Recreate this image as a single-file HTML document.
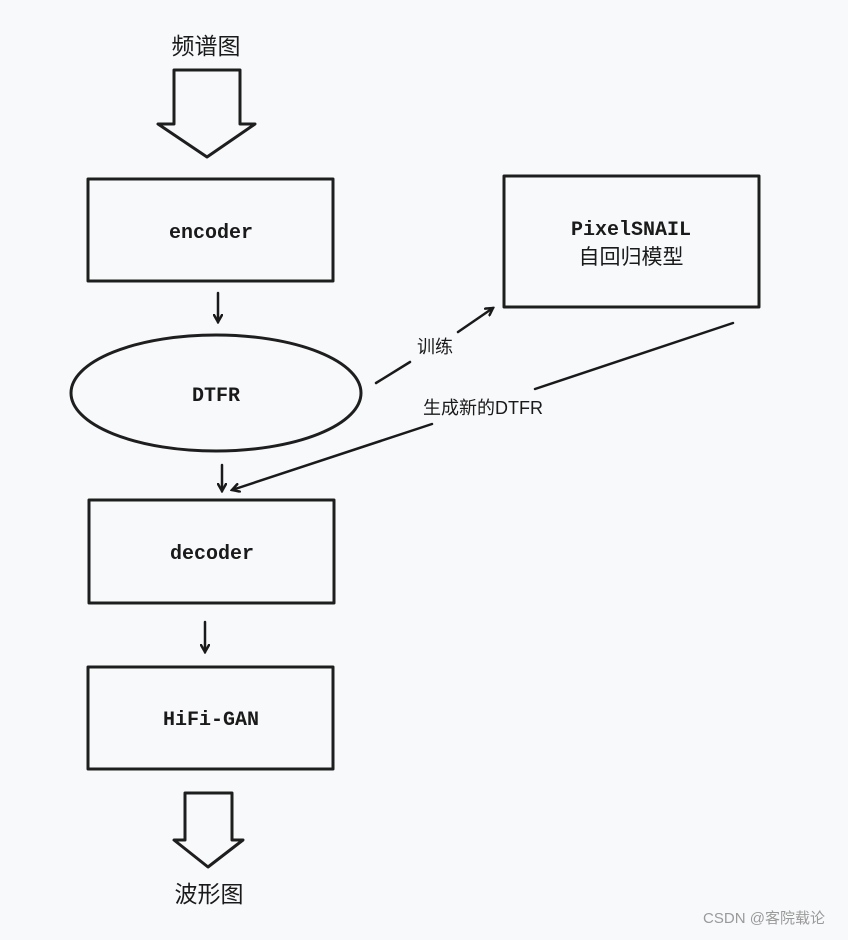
<!DOCTYPE html>
<html><head><meta charset="utf-8"><style>
html,body{margin:0;padding:0;background:#f8f9fb;}
text{font-family:"Liberation Mono","Noto Sans CJK SC",monospace;fill:#1a1a1a;}
.cn{font-family:"Liberation Sans","Noto Sans CJK SC",sans-serif;}
</style></head><body>
<svg width="848" height="935" viewBox="0 0 848 935" xmlns="http://www.w3.org/2000/svg">
<defs><marker id="ah" markerWidth="10" markerHeight="10" refX="8" refY="5" orient="auto" markerUnits="userSpaceOnUse"><path d="M1,1 L8,5 L1,9" fill="none" stroke="#1a1a1a" stroke-width="2.5" stroke-linecap="round"/></marker></defs>
<g fill="none" stroke="#1e1e1e" stroke-width="3" stroke-linejoin="round">
<polygon points="174,70 240,70 240,124 255,124 207,157 158,124 174,124"/>
<rect x="88" y="179" width="245" height="102"/>
<rect x="504" y="176" width="255" height="131"/>
<ellipse cx="216" cy="393" rx="145" ry="58"/>
<rect x="89" y="500" width="245" height="103"/>
<rect x="88" y="667" width="245" height="102"/>
<polygon points="185,793 232,793 232,840 243,840 208,867 174,840 185,840"/>
</g>
<g stroke="#1a1a1a" stroke-width="2.5" fill="none" stroke-linecap="round">
<line x1="218" y1="293" x2="218" y2="322" marker-end="url(#ah)"/>
<line x1="222" y1="465" x2="222" y2="491" marker-end="url(#ah)"/>
<line x1="205" y1="622" x2="205" y2="652" marker-end="url(#ah)"/>
<line x1="376" y1="383" x2="410" y2="362"/>
<line x1="458" y1="332" x2="493" y2="308" marker-end="url(#ah)"/>
<line x1="733" y1="323" x2="535" y2="389"/>
<line x1="432" y1="424" x2="232" y2="490" marker-end="url(#ah)"/>
</g>
<text class="cn" x="206" y="54" font-size="23" text-anchor="middle">频谱图</text>
<text x="211" y="238" font-size="20" font-weight="bold" text-anchor="middle">encoder</text>
<text x="631" y="235" font-size="20" font-weight="bold" text-anchor="middle">PixelSNAIL</text>
<text class="cn" x="631" y="264" font-size="21" text-anchor="middle">自回归模型</text>
<text x="216" y="401" font-size="20" font-weight="bold" text-anchor="middle">DTFR</text>
<text class="cn" x="435" y="353" font-size="18" text-anchor="middle">训练</text>
<text class="cn" x="483" y="414" font-size="18" text-anchor="middle">生成新的DTFR</text>
<text x="212" y="559" font-size="20" font-weight="bold" text-anchor="middle">decoder</text>
<text x="211" y="725" font-size="20" font-weight="bold" text-anchor="middle">HiFi-GAN</text>
<text class="cn" x="209" y="902" font-size="23" text-anchor="middle">波形图</text>
<text class="cn" x="764" y="923" font-size="15" fill="#999" text-anchor="middle" style="fill:#9a9a9a">CSDN @客院载论</text>
</g>
</svg>
</body></html>
